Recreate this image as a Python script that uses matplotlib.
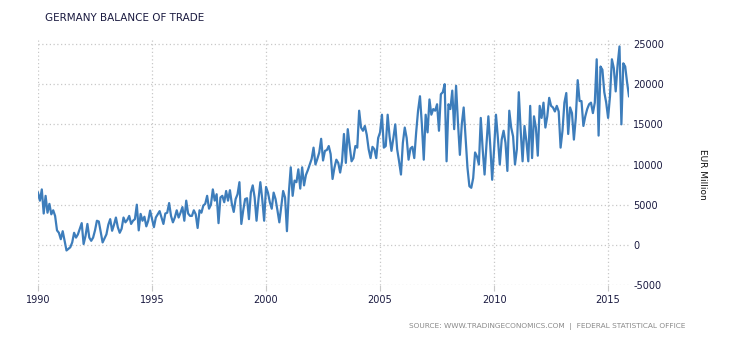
import numpy as np
import matplotlib.pyplot as plt

# monthly balance of trade, EUR million
y1990 = [6500, 5500, 6900, 3900, 6100, 4000, 5100, 3800, 4300, 3600, 1800, 1500]
y1991 = [700, 1700, 500, -700, -500, -300, 300, 1500, 900, 1300, 2000, 2700]
y1992 = [100, 1100, 2600, 900, 500, 900, 1800, 3000, 2900, 1600, 300, 800]
y1993 = [1300, 2500, 3200, 1750, 2500, 3400, 2200, 1500, 2000, 3400, 2800, 3100]
y1994 = [3600, 2600, 3000, 3200, 5000, 1800, 3850, 3000, 3500, 2300, 3000, 4260]
y1995 = [3200, 2200, 3400, 3800, 4200, 3400, 2600, 3900, 4000, 5200, 3600, 2800]
y1996 = [3400, 4300, 3400, 4000, 4700, 3000, 5500, 3900, 3600, 3600, 4300, 3800]
y1997 = [2100, 4300, 4000, 4900, 5100, 6100, 4500, 5000, 6900, 5500, 6300, 2700]
y1998 = [5900, 6100, 5300, 6700, 5500, 6800, 5100, 4100, 5700, 6300, 7800, 2600]
y1999 = [4300, 5700, 5800, 3200, 6500, 7400, 5900, 3000, 5600, 7800, 5700, 3000]
y2000 = [7200, 6500, 5300, 4500, 6500, 5700, 4300, 2800, 4700, 6700, 5900, 1700]
y2001 = [6500, 9650, 6100, 8000, 7800, 9400, 7000, 9650, 7400, 8700, 9300, 10000]
y2002 = [10700, 12100, 10000, 10700, 11500, 13200, 10500, 11700, 11800, 12300, 11300, 8200]
y2003 = [9600, 10600, 10200, 9000, 10400, 13800, 10200, 14400, 12300, 10400, 10800, 12300]
y2004 = [12100, 16700, 14600, 14200, 14800, 13700, 11900, 10800, 12200, 11900, 10800, 13300]
y2005 = [14000, 16200, 12100, 12300, 16200, 13500, 11700, 13300, 15000, 11900, 10400, 8750]
y2006 = [12700, 14600, 13300, 10600, 12000, 12200, 10800, 14000, 16700, 18500, 15000, 10600]
y2007 = [16200, 14000, 18100, 16200, 16900, 16700, 17500, 14200, 18750, 19000, 20000, 10400]
y2008 = [17500, 16900, 19200, 14400, 19800, 15200, 11200, 15000, 17100, 13300, 9600, 7300]
y2009 = [7100, 8300, 11500, 11000, 10000, 15800, 11900, 8750, 12500, 16000, 12300, 8100]
y2010 = [11900, 16200, 13300, 10000, 13100, 14200, 12700, 9200, 16700, 14600, 13500, 10000]
y2011 = [11900, 19000, 14200, 10400, 14800, 12900, 10400, 17300, 10800, 16000, 14600, 11100]
y2012 = [17300, 15800, 17700, 14600, 16000, 18300, 17300, 17100, 16600, 17300, 16600, 12100]
y2013 = [14200, 17700, 18900, 13800, 17100, 16400, 13100, 15800, 20500, 17900, 17900, 14800]
y2014 = [16000, 16900, 17500, 17700, 16400, 17700, 23100, 13600, 22200, 21800, 19000, 17700]
y2015 = [15800, 18500, 23100, 22000, 19100, 22400, 24700, 15000, 22600, 22200, 20200, 18500]

balance = (y1990 + y1991 + y1992 + y1993 + y1994 + y1995 + y1996 + y1997 + y1998
           + y1999 + y2000 + y2001 + y2002 + y2003 + y2004 + y2005 + y2006 + y2007
           + y2008 + y2009 + y2010 + y2011 + y2012 + y2013 + y2014 + y2015)
dates = 1990 + np.arange(len(balance)) / 12

year_ticks = [1990, 1995, 2000, 2005, 2010, 2015]
value_ticks = [-5000, 0, 5000, 10000, 15000, 20000, 25000]

fig = plt.figure(figsize=(7.3, 3.4), dpi=100)
ax = fig.add_axes([38 / 730, 55 / 340, 591 / 730, 245 / 340])

ax.plot(dates, balance, color='#3d7dbb', linewidth=1.6)

ax.set_xlim(dates[0], dates[-1])
ax.set_ylim(-5000, 25500)
ax.set_xticks(year_ticks)
ax.set_xticklabels([str(y) for y in year_ticks])
ax.set_yticks(value_ticks)
ax.set_yticklabels([str(v) for v in value_ticks])

ax.grid(True, color='#c8c8c8', linestyle=(0, (1, 2)), linewidth=0.9)
for s in ax.spines.values():
    s.set_visible(False)

ax.yaxis.tick_right()
ax.tick_params(axis='y', length=0, pad=3, labelsize=7, labelcolor='#1a1a40')
ax.tick_params(axis='x', length=4, color='#c8c8c8', pad=3, labelsize=7, labelcolor='#1a1a40')

fig.text(703 / 730, 1 - 174 / 340, 'EUR Million', rotation=270, ha='center', va='center',
         fontsize=6.5, color='#111111')
fig.text(45 / 730, 1 - 18 / 340, 'GERMANY BALANCE OF TRADE', ha='left', va='center',
         fontsize=7.5, color='#1a1a40')
fig.text(685 / 730, 1 - 326 / 340, 'SOURCE: WWW.TRADINGECONOMICS.COM  |  FEDERAL STATISTICAL OFFICE',
         ha='right', va='center', fontsize=5.3, color='#8a8a8a')

fig.savefig('out.png', dpi=100)
